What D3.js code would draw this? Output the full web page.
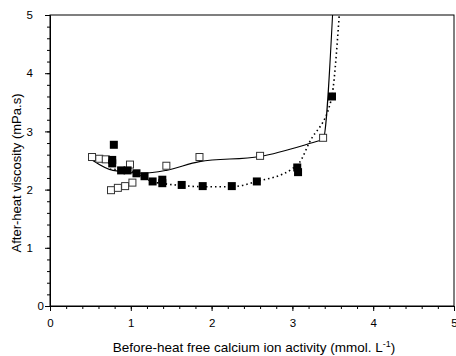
<!DOCTYPE html>
<html><head><meta charset="utf-8">
<script src="https://cdn.jsdelivr.net/npm/d3@7/dist/d3.min.js"></script>
<style>body{margin:0;background:#fff}svg{display:block}text{font-family:"Liberation Sans",Arial,sans-serif}</style>
</head><body><svg id="c" width="456" height="356"></svg>
<script>
const xTicks=[0,1,2,3,4,5];
const yTicks=[0,1,2,3,4,5];
const openX=[0.52,0.61,0.69,0.99,1.44,1.85,2.60,3.38,0.755,0.84,0.93,1.02];
const openY=[2.56,2.53,2.52,2.43,2.41,2.56,2.58,2.89,1.99,2.03,2.06,2.12];
const fillX=[0.79,0.77,0.77,0.88,0.96,1.07,1.17,1.27,1.39,1.39,1.63,1.89,2.25,2.56,3.06,3.07,3.49];
const fillY=[2.77,2.51,2.45,2.33,2.33,2.28,2.23,2.14,2.17,2.11,2.08,2.06,2.06,2.14,2.38,2.30,3.60];
const solidX=[0.52,0.78,1.15,1.44,1.85,2.60,3.33,3.38,3.497];
const solidY=[2.51,2.33,2.28,2.33,2.48,2.57,2.84,2.86,5.0];
const dotX=[0.74,0.88,1.07,1.26,1.42,1.63,1.89,2.25,2.56,3.0,3.09,3.21,3.48,3.58];
const dotY=[2.35,2.34,2.28,2.14,2.10,2.07,2.05,2.05,2.14,2.36,2.47,2.81,3.54,5.0];

const svg=d3.select("#c");
const L=50,R=454,T=15,B=306;
const x=d3.scaleLinear().domain([0,5]).range([L,R]);
const y=d3.scaleLinear().domain([0,5]).range([B,T]);
const minor=d3.range(0,5.01,0.2).map(v=>+v.toFixed(1));

svg.append("g").attr("transform",`translate(0,${B})`)
  .call(d3.axisBottom(x).tickValues(minor).tickSize(3).tickFormat("")).call(g=>g.select(".domain").remove());
svg.append("g").attr("transform",`translate(${L},0)`)
  .call(d3.axisLeft(y).tickValues(minor).tickSize(3).tickFormat("")).call(g=>g.select(".domain").remove());
const gx=svg.append("g").attr("transform",`translate(0,${B})`)
  .call(d3.axisBottom(x).tickValues(xTicks).tickSize(5).tickPadding(8).tickFormat(d3.format("d")));
const gy=svg.append("g").attr("transform",`translate(${L},0)`)
  .call(d3.axisLeft(y).tickValues(yTicks).tickSize(5).tickPadding(12).tickFormat(d3.format("d")));
svg.selectAll(".tick text").attr("font-size","11.5px").attr("font-family","Liberation Sans, Arial, sans-serif").attr("fill","#000");
gy.selectAll(".tick").filter(d=>d===0).select("text").attr("x",-6);
svg.selectAll(".domain").attr("stroke","#000");
svg.append("rect").attr("x",L).attr("y",T).attr("width",R-L).attr("height",B-T)
  .attr("fill","none").attr("stroke","#000").attr("stroke-width",1);

const line=d3.line().x(d=>x(d[0])).y(d=>y(d[1])).curve(d3.curveMonotoneX);
svg.append("clipPath").attr("id","cp").append("rect").attr("x",L).attr("y",T).attr("width",R-L).attr("height",B-T);
svg.append("path").attr("clip-path","url(#cp)").datum(solidX.map((v,i)=>[v,solidY[i]]))
  .attr("d",line).attr("fill","none").attr("stroke","#000").attr("stroke-width",1.1);
svg.append("path").attr("clip-path","url(#cp)").datum(dotX.map((v,i)=>[v,dotY[i]]))
  .attr("d",line).attr("fill","none").attr("stroke","#000").attr("stroke-width",1.6).attr("stroke-dasharray","1.5,3");

const s=7;
svg.append("g").selectAll("rect").data(openX.map((v,i)=>[v,openY[i]])).join("rect")
  .attr("x",d=>x(d[0])-s/2).attr("y",d=>y(d[1])-s/2).attr("width",s).attr("height",s)
  .attr("fill","#fff").attr("stroke","#333").attr("stroke-width",1);
svg.append("g").selectAll("rect").data(fillX.map((v,i)=>[v,fillY[i]])).join("rect")
  .attr("x",d=>x(d[0])-4).attr("y",d=>y(d[1])-4).attr("width",8).attr("height",8)
  .attr("fill","#000");

const xt=svg.append("text").attr("x",(L+R)/2+2).attr("y",352).attr("text-anchor","middle").attr("font-size","13.5px");
xt.append("tspan").text("Before-heat free calcium ion activity (mmol. L");
xt.append("tspan").attr("dy",-5).attr("font-size","9px").text("-1");
xt.append("tspan").attr("dy",5).text(")");
svg.append("text").attr("transform","translate(21,173) rotate(-90)").attr("text-anchor","middle")
  .attr("font-size","13px").text("After-heat viscosity (mPa.s)");
</script></body></html>
